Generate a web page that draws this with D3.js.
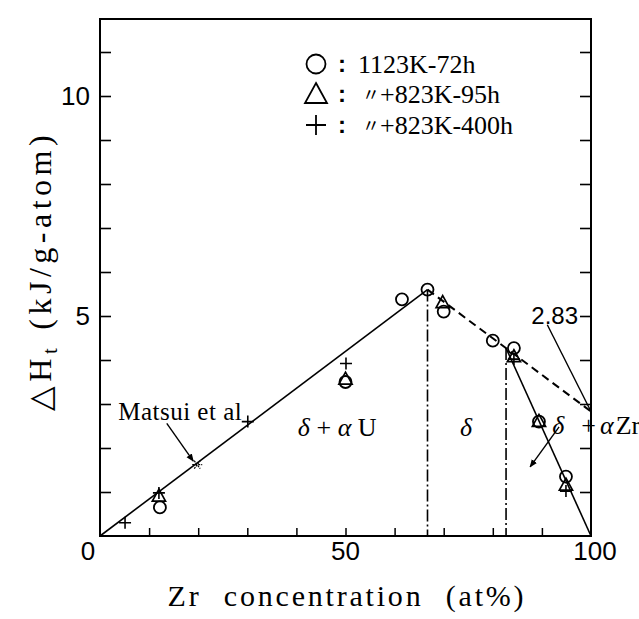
<!DOCTYPE html>
<html>
<head>
<meta charset="utf-8">
<script src="https://cdn.jsdelivr.net/npm/d3@7"></script>
<style>
  html, body { margin: 0; padding: 0; background: #fff; }
  svg { display: block; }
</style>
</head>
<body>
<svg id="chart" width="639" height="619"></svg>
<script>
// ---------- data ----------
const xDomain = [0, 100];
const yDomain = [0, 11.75];
const xTickValues = [10, 20, 30, 40, 50, 60, 70, 80, 90];
const xTickLabels = [0, 50, 100];
const yTickValues = [1, 2, 3, 4, 5, 6, 7, 8, 9, 10, 11];
const yTickLabels = [5, 10];

// 1123K-72h (circles)
const circleX = [12.2, 50.0, 61.5, 66.7, 70.0, 80.0, 84.3, 89.4, 94.9];
const circleY = [0.65, 3.50, 5.38, 5.60, 5.10, 4.44, 4.27, 2.60, 1.35];
// +823K-95h (triangles)
const triX = [12.0, 50.0, 69.8, 84.3, 89.4, 94.9];
const triY = [0.90, 3.56, 5.30, 4.07, 2.60, 1.15];
// +823K-400h (plus)
const plusX = [5.1, 12.0, 30.1, 50.1, 84.3, 94.9];
const plusY = [0.30, 0.98, 2.60, 3.92, 4.02, 1.02];
// Matsui et al
const matsuiX = [19.8];
const matsuiY = [1.62];

// fitted lines
const solidLine1 = [[0, 0], [66.7, 5.6]];
const dashedLine = [[66.7, 5.6], [100, 2.83]];
const solidLine2 = [[82.7, 4.27], [100, 0]];
const phaseBoundaries = [[66.7, 5.6], [82.7, 4.27]];

const legendLabels = ["1123K-72h", "+823K-95h", "+823K-400h"];

// ---------- layout ----------
const svg = d3.select("#chart");
const x = d3.scaleLinear().domain(xDomain).range([100, 591]);
const y = d3.scaleLinear().domain(yDomain).range([536, 19]);
const serif = "'Liberation Serif', 'Times New Roman', serif";
const sans = "'Liberation Sans', Arial, sans-serif";

// frame
svg.append("rect")
  .attr("x", x(0)).attr("y", y(yDomain[1]))
  .attr("width", x(100) - x(0)).attr("height", y(0) - y(yDomain[1]))
  .attr("fill", "none").attr("stroke", "#000").attr("stroke-width", 2);

// left axis ticks (inward)
const yAxisL = d3.axisRight(y).tickValues(yTickValues).tickSize(11).tickFormat("");
svg.append("g").attr("transform", `translate(${x(0)},0)`).call(yAxisL)
  .call(g => g.select(".domain").remove())
  .call(g => g.selectAll("line").attr("stroke-width", 1.6));
// right axis ticks (inward)
const yAxisR = d3.axisLeft(y).tickValues(yTickValues).tickSize(11).tickFormat("");
svg.append("g").attr("transform", `translate(${x(100)},0)`).call(yAxisR)
  .call(g => g.select(".domain").remove())
  .call(g => g.selectAll("line").attr("stroke-width", 1.6));
// bottom axis ticks (inward)
const xAxis = d3.axisTop(x).tickValues(xTickValues).tickSize(8).tickFormat("");
svg.append("g").attr("transform", `translate(0,${y(0)})`).call(xAxis)
  .call(g => g.select(".domain").remove())
  .call(g => g.selectAll("line").attr("stroke-width", 1.5));

// tick labels
svg.append("g").selectAll("text").data(xTickLabels).join("text")
  .attr("x", d => d === 0 ? x(d) - 12 : x(d) + (d === 100 ? 4 : 0))
  .attr("y", y(0) + 24)
  .attr("text-anchor", "middle")
  .attr("font-family", sans).attr("font-size", 26)
  .text(d => d);
svg.append("g").selectAll("text").data(yTickLabels).join("text")
  .attr("x", x(0) - 10)
  .attr("y", d => y(d) + 9)
  .attr("text-anchor", "end")
  .attr("font-family", sans).attr("font-size", 26)
  .text(d => d);

// axis titles
svg.append("text")
  .attr("x", 347).attr("y", 606)
  .attr("text-anchor", "middle")
  .attr("font-family", serif).attr("font-size", 30)
  .attr("letter-spacing", 2.8)
  .attr("word-spacing", 12)
  .text("Zr concentration (at%)");

const yt = svg.append("text")
  .attr("transform", "translate(51,271) rotate(-90)")
  .attr("text-anchor", "middle")
  .attr("font-family", serif).attr("font-size", 32)
  .attr("letter-spacing", 4.5);
yt.append("tspan").text("△H");
yt.append("tspan").attr("font-size", 21).attr("dy", 6).text("t");
yt.append("tspan").attr("dy", -6).attr("dx", 14).text("(kJ/g-atom)");

// lines
const line = d3.line().x(d => x(d[0])).y(d => y(d[1]));
svg.append("path").attr("d", line(solidLine1))
  .attr("fill", "none").attr("stroke", "#000").attr("stroke-width", 1.6);
svg.append("path").attr("d", line(dashedLine))
  .attr("fill", "none").attr("stroke", "#000").attr("stroke-width", 2)
  .attr("stroke-dasharray", "8,5");
svg.append("path").attr("d", line(solidLine2))
  .attr("fill", "none").attr("stroke", "#000").attr("stroke-width", 1.6);
svg.append("g").selectAll("path").data(phaseBoundaries).join("path")
  .attr("d", d => line([[d[0], d[1]], [d[0], 0]]))
  .attr("fill", "none").attr("stroke", "#000").attr("stroke-width", 1.6)
  .attr("stroke-dasharray", "12,3,2,3");

// markers
const circles = circleX.map((v, i) => [v, circleY[i]]);
const tris = triX.map((v, i) => [v, triY[i]]);
const pluses = plusX.map((v, i) => [v, plusY[i]]);
const matsui = matsuiX.map((v, i) => [v, matsuiY[i]]);

svg.append("g").selectAll("circle").data(circles).join("circle")
  .attr("cx", d => x(d[0])).attr("cy", d => y(d[1])).attr("r", 6)
  .attr("fill", "none").attr("stroke", "#000").attr("stroke-width", 1.8);
const triPath = s => `M0,${-s * 0.6}L${s * 0.55},${s * 0.4}L${-s * 0.55},${s * 0.4}Z`;
svg.append("g").selectAll("path").data(tris).join("path")
  .attr("transform", d => `translate(${x(d[0])},${y(d[1])})`)
  .attr("d", triPath(12))
  .attr("fill", "none").attr("stroke", "#000").attr("stroke-width", 1.7);
svg.append("g").selectAll("path").data(pluses).join("path")
  .attr("transform", d => `translate(${x(d[0])},${y(d[1])})`)
  .attr("d", "M-6,0H6M0,-6V6")
  .attr("fill", "none").attr("stroke", "#000").attr("stroke-width", 1.6);
svg.append("g").selectAll("path").data(matsui).join("path")
  .attr("transform", d => `translate(${x(d[0])},${y(d[1])})`)
  .attr("d", "M-5,0H5M-3,-4L3,4M-3,4L3,-4")
  .attr("fill", "none").attr("stroke", "#000").attr("stroke-width", 1.2)
  .attr("stroke-dasharray", "2,1");

// arrows (annotation leaders, in data units)
const arrowLines = [
  { from: [13.6, 2.56], to: [19.0, 1.70], head: true },
  { from: [93.5, 2.48], to: [87.6, 1.57], head: true },
  { from: [91.1, 4.80], to: [100, 2.83], head: false }
];
svg.append("defs").append("marker")
  .attr("id", "ah").attr("viewBox", "0 0 10 10")
  .attr("refX", 9).attr("refY", 5)
  .attr("markerWidth", 8).attr("markerHeight", 8)
  .attr("markerUnits", "userSpaceOnUse")
  .attr("orient", "auto")
  .append("path").attr("d", "M0,1L10,5L0,9Z").attr("fill", "#000");
svg.append("g").selectAll("path").data(arrowLines).join("path")
  .attr("d", d => line([d.from, d.to]))
  .attr("fill", "none").attr("stroke", "#000").attr("stroke-width", 1.4)
  .attr("marker-end", d => d.head ? "url(#ah)" : null);

// annotation texts
svg.append("text").attr("x", x(3.7)).attr("y", y(2.64))
  .attr("font-family", serif).attr("font-size", 25)
  .attr("letter-spacing", 0.5)
  .text("Matsui et al");
svg.append("text").attr("x", x(100) - 13).attr("y", y(5) + 8)
  .attr("font-family", sans).attr("font-size", 24)
  .attr("text-anchor", "end")
  .text("2.83");

// region labels (italic Greek, upright element symbols); parts: [text, italic, dx]
const regions = [
  { pos: [40.3, 2.27], parts: [["δ", true, 0], [" + ", false, 0], ["α ", true, 0], ["U", false, 0]] },
  { pos: [73.3, 2.27], parts: [["δ", true, 0]] },
  { pos: [92.1, 2.32], parts: [["δ", true, 0], ["+", false, 17], ["α", true, 4], ["Zr", false, 2]] }
];
regions.forEach(r => {
  const t = svg.append("text")
    .attr("x", x(r.pos[0])).attr("y", y(r.pos[1]))
    .attr("font-family", serif).attr("font-size", 26)
    .attr("xml:space", "preserve");
  r.parts.forEach(p => t.append("tspan")
    .attr("dx", p[2])
    .attr("font-style", p[1] ? "italic" : "normal").text(p[0]));
});

// legend
const lg = svg.append("g");
const rows = [64, 94, 125];
lg.append("circle").attr("cx", 316).attr("cy", rows[0]).attr("r", 9.5)
  .attr("fill", "none").attr("stroke", "#000").attr("stroke-width", 1.8);
lg.append("path").attr("transform", `translate(316,${rows[1] + 1})`).attr("d", triPath(20))
  .attr("fill", "none").attr("stroke", "#000").attr("stroke-width", 1.8);
lg.append("path").attr("transform", `translate(316,${rows[2]})`).attr("d", "M-10,0H10M0,-10V10")
  .attr("fill", "none").attr("stroke", "#000").attr("stroke-width", 1.8);
lg.selectAll("text.colon").data(rows).join("text").attr("class", "colon")
  .attr("x", 342).attr("y", d => d + 8)
  .attr("text-anchor", "middle")
  .attr("font-family", sans).attr("font-size", 24).attr("font-weight", "bold")
  .text(":");
lg.append("text").attr("x", 358).attr("y", rows[0] + 9)
  .attr("font-family", serif).attr("font-size", 26).text(legendLabels[0]);
[1, 2].forEach(i => {
  lg.append("text").attr("x", 362).attr("y", rows[i] + 7)
    .attr("font-family", "'Noto Sans CJK JP', sans-serif").attr("font-size", 18)
    .text("〃");
  lg.append("text").attr("x", 380).attr("y", rows[i] + 9)
    .attr("font-family", serif).attr("font-size", 26).text(legendLabels[i]);
});
</script>
</body>
</html>
